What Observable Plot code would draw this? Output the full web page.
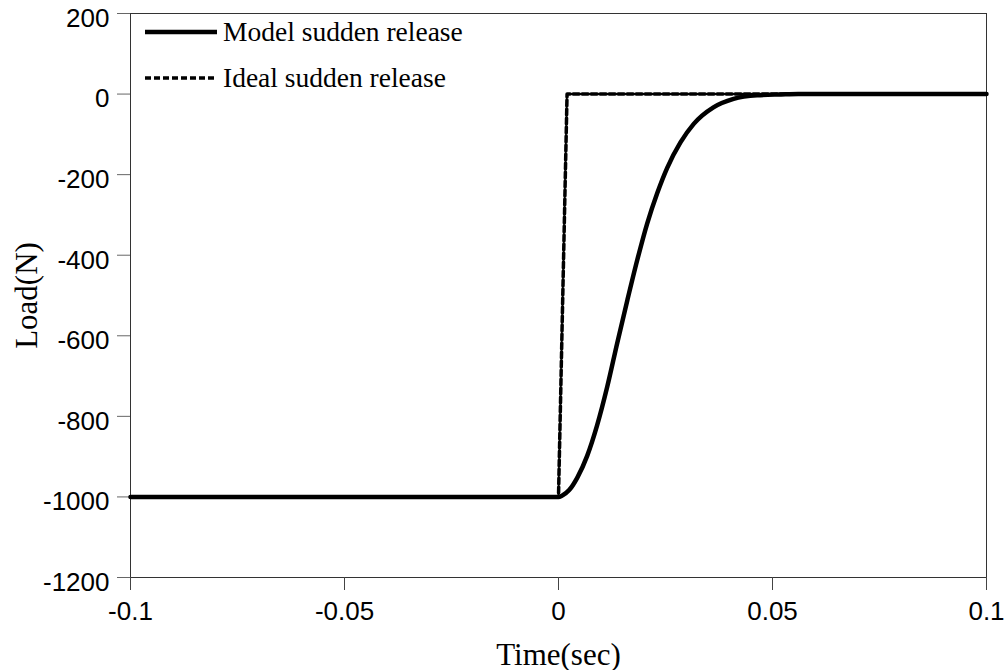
<!DOCTYPE html>
<html>
<head>
<meta charset="utf-8">
<script src="https://cdn.jsdelivr.net/npm/d3@7"></script>
<script src="https://cdn.jsdelivr.net/npm/@observablehq/plot@0.6"></script>
<style>
  body { margin: 0; background: #fff; }
  #chart { position: relative; width: 1008px; height: 670px; }
  #chart svg text { fill: #000; }
  g[aria-label="x-axis tick label"] text,
  g[aria-label="y-axis tick label"] text { font-family: "Liberation Sans", Arial, sans-serif; font-size: 26px; }
  g[aria-label="x-axis label"] text,
  g[aria-label="y-axis label"] text { font-family: "Liberation Serif", "Times New Roman", serif; font-size: 31px; }
  #legend { position: absolute; left: 145px; top: 9px; font-family: "Liberation Serif", "Times New Roman", serif; font-size: 27.5px; color: #000; }
  #legend .row { display: flex; align-items: center; height: 46px; }
  #legend svg { width: 72px; height: 10px; margin-right: 6px; }
</style>
</head>
<body>
<div id="chart"></div>
<script>
// Load on the release point over time: modelled and ideal sudden release
const modelTime = [-0.1, 0, 0.0008, 0.0025, 0.0044, 0.0067, 0.009, 0.0114, 0.0137, 0.0161, 0.0184, 0.0207, 0.0231, 0.0254, 0.0285, 0.0316, 0.0362, 0.0409, 0.0464, 0.052, 0.056, 0.1];
const modelLoad = [-1000, -1000, -997, -983, -952, -898, -823, -726, -619, -511, -412, -322, -245, -183, -120, -74, -33, -12, -3, -1, 0, 0];
const idealTime = [-0.1, 0, 0.002, 0.1];
const idealLoad = [-1000, -1000, 0, 0];

const seriesNames = ["Model sudden release", "Ideal sudden release"];
const xTicks = [-0.1, -0.05, 0, 0.05, 0.1];
const xTickLabels = ["-0.1", "-0.05", "0", "0.05", "0.1"];
const yTicks = [-1200, -1000, -800, -600, -400, -200, 0, 200];

const model = modelTime.map((t, i) => ({t, load: modelLoad[i]}));
const ideal = idealTime.map((t, i) => ({t, load: idealLoad[i]}));

const chart = Plot.plot({
  width: 1008,
  height: 670,
  marginLeft: 130,
  marginRight: 22,
  marginTop: 13,
  marginBottom: 93,
  style: {background: "#fff", overflow: "visible"},
  x: {domain: [-0.1, 0.1]},
  y: {domain: [-1200, 200]},
  marks: [
    Plot.frame({stroke: "#333", strokeWidth: 1}),
    // y tick marks
    Plot.axisY({ticks: yTicks, tickSize: 13, stroke: "#666", tickFormat: () => "", label: null}),
    // y tick labels, set slightly below their ticks
    Plot.axisY({
      ticks: yTicks, tickSize: 0, tickPadding: 21, dy: 5,
      tickFormat: d => String(d),
      label: "Load(N)", labelAnchor: "center", labelArrow: "none", labelOffset: 116
    }),
    Plot.axisX({
      ticks: xTicks, tickSize: 13, tickPadding: 11, stroke: "#444",
      tickFormat: d => xTickLabels[xTicks.indexOf(d)],
      label: "Time(sec)", labelAnchor: "center", labelArrow: "none", labelOffset: 87
    }),
    Plot.line(ideal, {x: "t", y: "load", stroke: "#000", strokeWidth: 3.5, strokeDasharray: "6,3"}),
    Plot.line(model, {x: "t", y: "load", stroke: "#000", strokeWidth: 4.5, curve: "monotone-x"})
  ]
});

const root = document.getElementById("chart");
root.appendChild(chart);

// Legend drawn inside the upper-left corner of the plot
const legend = document.createElement("div");
legend.id = "legend";
const dashes = [null, "6,3"];
const widths = [4.5, 3.5];
seriesNames.forEach((name, i) => {
  const row = document.createElement("div");
  row.className = "row";
  row.innerHTML = `<svg viewBox="0 0 72 10"><line x1="0" x2="72" y1="5" y2="5" stroke="#000" stroke-width="${widths[i]}"${dashes[i] ? ` stroke-dasharray="${dashes[i]}"` : ""}/></svg><span>${name}</span>`;
  legend.appendChild(row);
});
root.appendChild(legend);
</script>
</body>
</html>
